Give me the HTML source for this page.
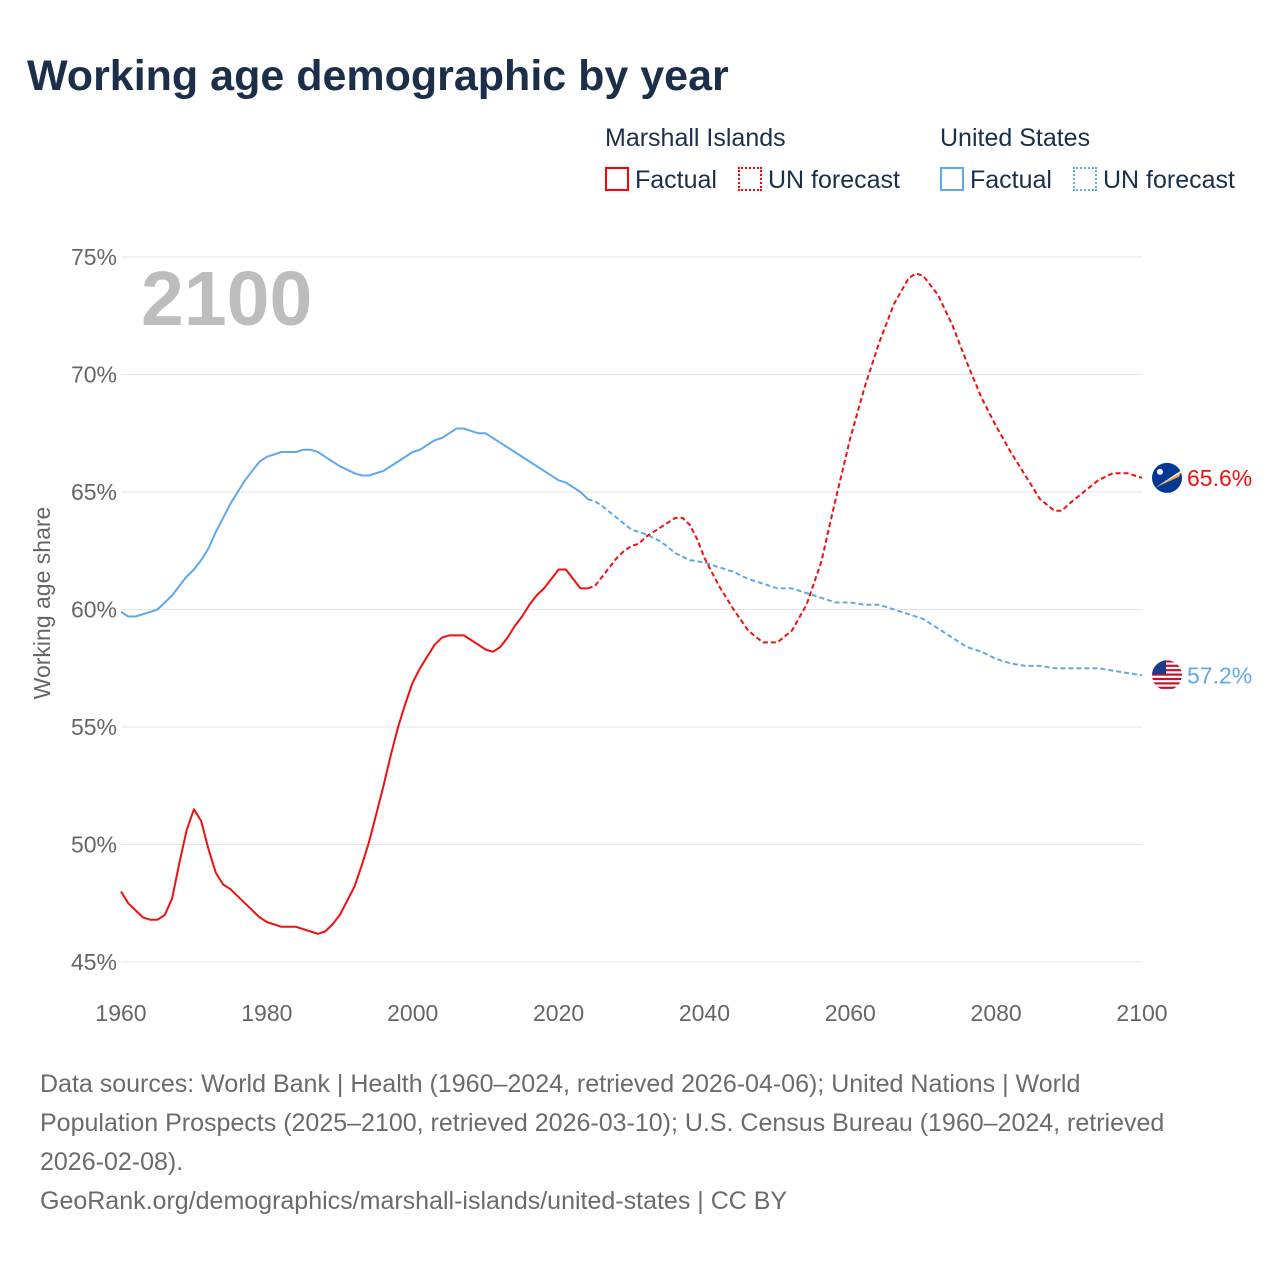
<!DOCTYPE html>
<html><head><meta charset="utf-8">
<style>
body{margin:0;background:#fff;font-family:"Liberation Sans",sans-serif;}
#wrap{position:relative;width:1280px;height:1280px;overflow:hidden;}
.t{position:absolute;white-space:nowrap;}
</style></head>
<body>
<div id="wrap">
<div class="t" style="left:27px;top:52px;font-size:43px;font-weight:bold;color:#1b2f4b;">Working age demographic by year</div>
<div class="t" style="left:605px;top:124px;font-size:25px;color:#1b2f4b;">Marshall Islands</div>
<div class="t" style="left:940px;top:124px;font-size:25px;color:#1b2f4b;">United States</div>
<div class="t" style="left:605px;top:166px;font-size:25px;color:#1b2f4b;"><span style="display:inline-block;width:24px;height:24px;border:2px solid #f00;box-sizing:border-box;vertical-align:-3px;margin-right:6px"></span>Factual</div>
<div class="t" style="left:738px;top:166px;font-size:25px;color:#1b2f4b;"><span style="display:inline-block;width:24px;height:24px;border:2px dotted #f00;box-sizing:border-box;vertical-align:-3px;margin-right:6px"></span>UN forecast</div>
<div class="t" style="left:940px;top:166px;font-size:25px;color:#1b2f4b;"><span style="display:inline-block;width:24px;height:24px;border:2px solid #5fa8ec;box-sizing:border-box;vertical-align:-3px;margin-right:6px"></span>Factual</div>
<div class="t" style="left:1073px;top:166px;font-size:25px;color:#1b2f4b;"><span style="display:inline-block;width:24px;height:24px;border:2px dotted #5fa8ec;box-sizing:border-box;vertical-align:-3px;margin-right:6px"></span>UN forecast</div>
<svg id="chart" width="1280" height="1280" style="position:absolute;left:0;top:0"></svg>
<div class="t" style="left:40px;top:1065px;font-size:25px;line-height:39px;color:#6b6b6b;">Data sources: World Bank | Health (1960–2024, retrieved 2026-04-06); United Nations | World<br>Population Prospects (2025–2100, retrieved 2026-03-10); U.S. Census Bureau (1960–2024, retrieved<br>2026-02-08).<br>GeoRank.org/demographics/marshall-islands/united-states | CC BY</div>
</div>
<script>
const yTicks=[45,50,55,60,65,70,75];
const xTicks=[1960,1980,2000,2020,2040,2060,2080,2100];
const miYears=[1960,1961,1963,1964,1965,1966,1967,1968,1969,1970,1971,1972,1973,1974,1975,1976,1977,1978,1979,1980,1982,1984,1986,1987,1988,1989,1990,1991,1992,1993,1994,1995,1996,1997,1998,1999,2000,2001,2002,2003,2004,2005,2006,2007,2008,2009,2010,2011,2012,2013,2014,2015,2016,2017,2018,2019,2020,2021,2022,2023,2024];
const miValues=[48.0,47.5,46.9,46.8,46.8,47.0,47.7,49.2,50.6,51.5,51.0,49.8,48.8,48.3,48.1,47.8,47.5,47.2,46.9,46.7,46.5,46.5,46.3,46.2,46.3,46.6,47.0,47.6,48.2,49.1,50.1,51.3,52.5,53.8,55.0,56.0,56.9,57.5,58.0,58.5,58.8,58.9,58.9,58.9,58.7,58.5,58.3,58.2,58.4,58.8,59.3,59.7,60.2,60.6,60.9,61.3,61.7,61.7,61.3,60.9,60.9];
const miFcYears=[2024,2025,2026,2027,2028,2029,2030,2031,2032,2034,2036,2037,2038,2039,2040,2042,2044,2046,2048,2050,2052,2054,2056,2058,2060,2062,2064,2066,2068,2069,2070,2072,2074,2076,2078,2080,2082,2084,2086,2088,2089,2090,2092,2094,2096,2098,2100];
const miFcValues=[60.9,61.0,61.4,61.8,62.2,62.5,62.7,62.8,63.1,63.5,63.9,63.9,63.6,63.0,62.2,61.0,60.0,59.1,58.6,58.6,59.1,60.2,62.0,64.7,67.3,69.5,71.4,73.0,74.1,74.3,74.2,73.4,72.1,70.5,69.0,67.8,66.7,65.7,64.7,64.2,64.2,64.5,65.0,65.5,65.8,65.8,65.6];
const usYears=[1960,1961,1962,1963,1964,1965,1966,1967,1968,1969,1970,1971,1972,1973,1974,1975,1976,1977,1978,1979,1980,1982,1984,1985,1986,1987,1988,1990,1992,1993,1994,1996,1998,2000,2001,2002,2003,2004,2005,2006,2007,2008,2009,2010,2012,2014,2016,2018,2020,2021,2022,2023,2024];
const usValues=[59.9,59.7,59.7,59.8,59.9,60.0,60.3,60.6,61.0,61.4,61.7,62.1,62.6,63.3,63.9,64.5,65.0,65.5,65.9,66.3,66.5,66.7,66.7,66.8,66.8,66.7,66.5,66.1,65.8,65.7,65.7,65.9,66.3,66.7,66.8,67.0,67.2,67.3,67.5,67.7,67.7,67.6,67.5,67.5,67.1,66.7,66.3,65.9,65.5,65.4,65.2,65.0,64.7];
const usFcYears=[2024,2025,2026,2028,2030,2032,2034,2036,2038,2040,2042,2044,2046,2048,2050,2052,2054,2056,2058,2060,2062,2064,2066,2068,2070,2072,2074,2076,2078,2080,2082,2084,2086,2088,2090,2092,2094,2096,2098,2100];
const usFcValues=[64.7,64.6,64.4,63.9,63.4,63.2,62.9,62.4,62.1,62.0,61.8,61.6,61.3,61.1,60.9,60.9,60.7,60.5,60.3,60.3,60.2,60.2,60.0,59.8,59.6,59.2,58.8,58.4,58.2,57.9,57.7,57.6,57.6,57.5,57.5,57.5,57.5,57.4,57.3,57.2];

const NS="http://www.w3.org/2000/svg";
const svg=document.getElementById('chart');
const X=y=>121+(y-1960)*(1142-121)/140;
const Y=v=>962-(v-45)*(962-257)/30;
function mk(tag,attrs,parent){const e=document.createElementNS(NS,tag);for(const k in attrs)e.setAttribute(k,attrs[k]);(parent||svg).appendChild(e);return e;}
yTicks.forEach(t=>{
  const g=mk('line',{x1:121,x2:1142,y1:Y(t),y2:Y(t),stroke:'#e4e4e4','stroke-width':1});
  
  
  const tx=mk('text',{x:117,y:Y(t)+8,'text-anchor':'end','font-size':23,fill:'#666','font-family':'Liberation Sans, sans-serif'});
  tx.textContent=t+'%';
  
  
});
xTicks.forEach(t=>{
  const tx=mk('text',{x:X(t),y:1021,'text-anchor':'middle','font-size':23,fill:'#666','font-family':'Liberation Sans, sans-serif'});
  tx.textContent=t;
  
  
});
const yt=mk('text',{x:0,y:0,transform:'translate(50,603) rotate(-90)','text-anchor':'middle','font-size':23,fill:'#666','font-family':'Liberation Sans, sans-serif'});
yt.textContent='Working age share';


const yr=mk('text',{x:141,y:325,'font-size':77,'font-weight':'bold',fill:'#bdbdbd','font-family':'Liberation Sans, sans-serif'});
yr.textContent='2100';


function line(xs,vs,color,dash,name){
  const d=xs.map((x,i)=>(i?'L':'M')+X(x).toFixed(1)+','+Y(vs[i]).toFixed(1)).join('');
  const p=mk('path',{d:d,fill:'none',stroke:color,'stroke-width':2,'stroke-linejoin':'round'});
  if(dash)p.setAttribute('stroke-dasharray','5,3');
  
  
}
line(usYears,usValues,'#5fa8ec',false,'us-factual-line');
line(usFcYears,usFcValues,'#5fa8ec',true,'us-forecast-line');
line(miYears,miValues,'#f01010',false,'mi-factual-line');
line(miFcYears,miFcValues,'#f01010',true,'mi-forecast-line');
const miLast=miFcValues[miFcValues.length-1], usLast=usFcValues[usFcValues.length-1];
const fm=mk('g',{});


mk('circle',{cx:1167,cy:Y(miLast),r:15,fill:'#003893'},fm);
mk('path',{d:`M1155,${Y(miLast)+10} L1182,${Y(miLast)-8} L1181,${Y(miLast)-5} Z`,fill:'#fff'},fm);
mk('path',{d:`M1155,${Y(miLast)+10} L1181,${Y(miLast)-5} L1179,${Y(miLast)-1} Z`,fill:'#f4a030'},fm);
mk('circle',{cx:1160,cy:Y(miLast)-6,r:3,fill:'#fff'},fm);
const fu=mk('g',{});


const cy=Y(usLast);
const cp=mk('clipPath',{id:'uc'},fu);
mk('circle',{cx:1167,cy:cy,r:15},cp);
const gg=mk('g',{'clip-path':'url(#uc)'},fu);
mk('rect',{x:1152,y:cy-15,width:30,height:30,fill:'#fff'},gg);
for(let i=0;i<7;i++)mk('rect',{x:1152,y:cy-15+i*4.4,width:30,height:2.2,fill:'#c8102e'},gg);
mk('rect',{x:1152,y:cy-15,width:14,height:14,fill:'#1a3a8c'},gg);
const lm=mk('text',{x:1187,y:Y(miLast)+8,'font-size':23,fill:'#f01010','font-family':'Liberation Sans, sans-serif'});
lm.textContent=miLast.toFixed(1)+'%';


const lu=mk('text',{x:1187,y:cy+8,'font-size':23,fill:'#5fa8ec','font-family':'Liberation Sans, sans-serif'});
lu.textContent=usLast.toFixed(1)+'%';


</script>
</body></html>
